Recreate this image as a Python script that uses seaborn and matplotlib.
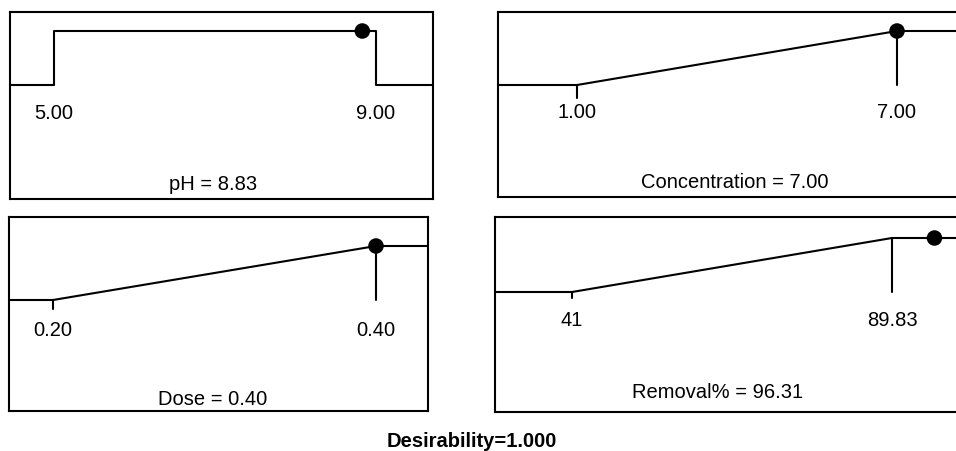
import numpy as np
import pandas as pd
import matplotlib
matplotlib.use("Agg")
import matplotlib.pyplot as plt
import seaborn as sns

# ---------------- data ----------------
names = ["pH", "Concentration", "Dose", "Removal%"]
lows = [5.00, 1.00, 0.20, 41.0]
highs = [9.00, 7.00, 0.40, 89.83]
currents = [8.83, 7.00, 0.40, 96.31]
goals = ["range", "max", "max", "max"]
low_labels = ["5.00", "1.00", "0.20", "41"]
high_labels = ["9.00", "7.00", "0.40", "89.83"]
current_labels = ["8.83", "7.00", "0.40", "96.31"]
desirability = 1.000

# ---------------- layout (pixels) ----------------
W, H = 956, 452
boxes = [(10, 13, 433, 200), (498, 13, 975, 198), (9, 218, 428, 412), (495, 218, 975, 413)]
low_px = [54, 577, 53, 572]
high_px = [376, 897, 376, 892]
base_px = [86, 86, 301, 293]
top_px = [32, 32, 247, 239]
tick_px = [0, 13, 9, 6]
label_px = [113, 113, 330, 320]
name_px = [(213, 185), (735, 183), (213, 400), (718, 392)]

sns.set_theme(style="white")
plt.rcParams["font.family"] = ["Liberation Sans", "DejaVu Sans"]

FS = 14.5
LW = 1.5

fig = plt.figure(figsize=(W / 100, H / 100), dpi=100)
fig.patch.set_facecolor("white")

for i in range(4):
    l, t, r, b = boxes[i]
    ax = fig.add_axes([l / W, 1 - b / H, (r - l) / W, (b - t) / H])
    lo, hi, cur = lows[i], highs[i], currents[i]
    s = (high_px[i] - low_px[i]) / (hi - lo)
    ys = base_px[i] - top_px[i]
    x0 = lo - (low_px[i] - l) / s
    x1 = hi + (r - high_px[i]) / s
    y0 = -(b - base_px[i]) / ys
    y1 = 1 + (top_px[i] - t) / ys

    if goals[i] == "range":
        xs = [x0, lo, lo, hi, hi, x1]
        ds = [0, 0, 1, 1, 0, 0]
        dcur = 1.0 if lo <= cur <= hi else 0.0
    else:
        xs = [x0, lo, hi, x1]
        ds = [0, 0, 1, 1]
        dcur = float(np.clip((cur - lo) / (hi - lo), 0, 1))
    df = pd.DataFrame({"x": xs, "d": ds})
    sns.lineplot(data=df, x="x", y="d", sort=False, estimator=None,
                 color="black", linewidth=LW, ax=ax)
    if goals[i] == "max":
        ax.plot([lo, lo], [0, -tick_px[i] / ys], color="black", lw=LW)
        ax.plot([hi, hi], [1, 0], color="black", lw=LW)
    sns.scatterplot(x=[cur], y=[dcur], s=125, color="black", edgecolor="none",
                    zorder=5, ax=ax, clip_on=False)

    ly = -(label_px[i] - base_px[i]) / ys
    ax.text(lo, ly, low_labels[i], ha="center", va="center", fontsize=FS, color="black")
    ax.text(hi, ly, high_labels[i], ha="center", va="center", fontsize=FS, color="black")
    nx = lo + (name_px[i][0] - low_px[i]) / s
    ny = -(name_px[i][1] - base_px[i]) / ys
    ax.text(nx, ny, f"{names[i]} = {current_labels[i]}", ha="center", va="center",
            fontsize=FS, color="black")

    ax.set_xlim(x0, x1)
    ax.set_ylim(y0, y1)
    ax.set_xticks([])
    ax.set_yticks([])
    ax.set_xlabel("")
    ax.set_ylabel("")
    for sp in ax.spines.values():
        sp.set_visible(True)
        sp.set_color("black")
        sp.set_linewidth(LW)

fig.text(472 / W, 1 - 442 / H, f"Desirability={desirability:.3f}", ha="center", va="center",
         fontsize=FS, fontweight="bold", color="black")

fig.savefig("out.png", dpi=100, facecolor="white")
